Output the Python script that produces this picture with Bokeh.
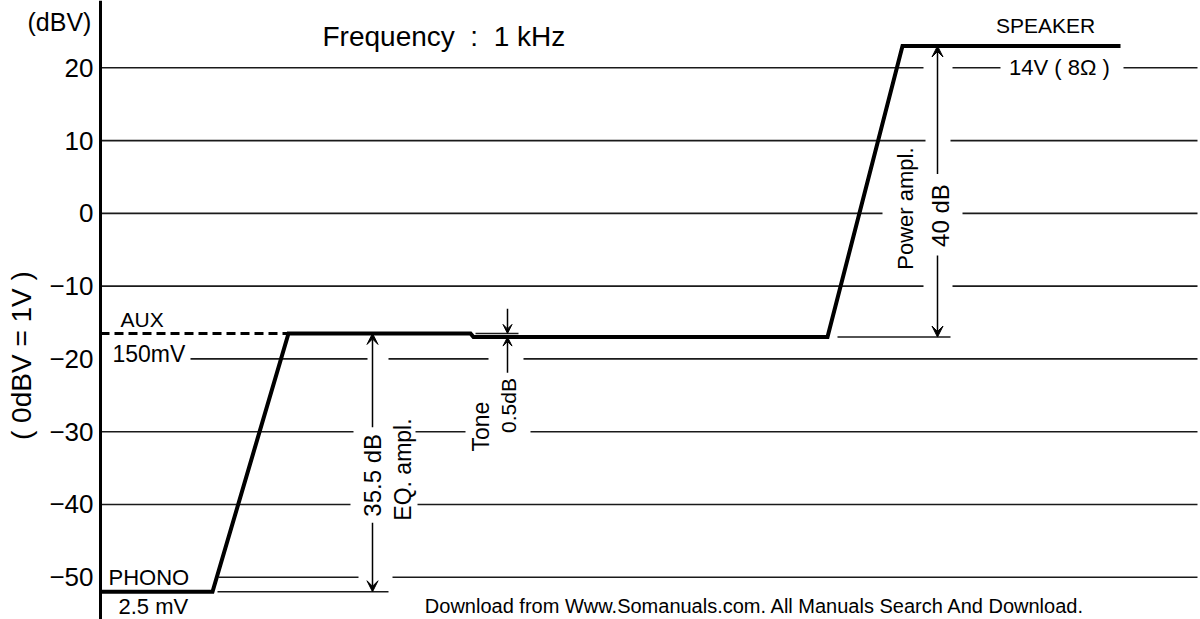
import math
from bokeh.plotting import figure
from bokeh.models import Arrow, VeeHead, Span
from bokeh.core.properties import value
from bokeh.embed import file_html
from bokeh.resources import INLINE

# ---------------- data ----------------
# signal level along the amplifier chain (x = position along the chain, arbitrary units)
stage_x = [0, 112, 188, 370, 373, 727, 802, 1020]
level_db = [-52, -52, -16.5, -16.5, -17, -17, 23, 23]

# AUX input (dashed)
aux_x = [0, 188]
aux_db = [-16.5, -16.5]

phono_db = -52.0
aux_db_level = -16.5
tone_db_level = -17.0
speaker_db = 23.0

tick_values = [20, 10, 0, -10, -20, -30, -40, -50]
tick_labels = ["20", "10", "0", "\u221210", "\u221220", "\u221230", "\u221240", "\u221250"]
unit_label = "(dBV)"
axis_title = "( 0dBV = 1V )"

# horizontal reference lines (value, start, end) with breaks where labels sit
grid_y = [20, 20, 20, 10, 10, 0, 0, -10, -10,
          -20, -20, -20, -30, -30, -30, -40, -40, -50, -50,
          -52, -17, -16.5]
grid_x0 = [0, 852, 1023, 0, 850, 0, 862, 0, 852,
           90, 288, 423, 0, 315, 430, 0, 317, 118, 292,
           117, 737, 375]
grid_x1 = [823, 900, 1097, 825, 1097, 782, 1097, 823, 1097,
           267, 388, 1097, 253, 365, 1097, 250, 1097, 258, 1097,
           288, 850, 418]

FONT = "Liberation Sans"
NB = "\u00a0"

p = figure(width=1200, height=619, output_backend="svg", toolbar_location=None,
           x_range=(-100, 1100), y_range=(-55.81, 29.25),
           min_border_left=0, min_border_right=0, min_border_top=0, min_border_bottom=0,
           background_fill_color="white", border_fill_color="white")
p.outline_line_color = None
p.grid.visible = False
p.xaxis.visible = False
p.yaxis.visible = False

def txt(x, y, t, size, align="left", angle=0.0, font=FONT):
    p.text(x=x if isinstance(x, list) else [x], y=y if isinstance(y, list) else [y],
           text=t if isinstance(t, list) else [t], angle=angle, text_font=value(font),
           text_font_size=value(size), text_align=align, text_baseline="middle",
           text_color="black")

# vertical axis line at the start of the chain, with its scale labels
p.add_layout(Span(location=0, dimension="height", line_color="black", line_width=3))
txt([-7] * len(tick_values), tick_values, tick_labels, "26px", align="right")
txt(-73, 26.36, unit_label, "25px")
txt(-79, -19.54, axis_title, "28px", "center", math.pi / 2)

# grid / reference lines
p.segment(x0=grid_x0, y0=grid_y, x1=grid_x1, y1=grid_y, line_color="#1a1a1a", line_width=1.6)

# level line
p.line(stage_x, level_db, line_color="black", line_width=4, line_join="miter")
p.line(aux_x, aux_db, line_color="black", line_width=3, line_dash="9 5")

# dimension arrows
def arrow(x, y0, y1, size=11):
    p.add_layout(Arrow(x_start=x, y_start=y0, x_end=x, y_end=y1, line_width=1.5, line_color="black",
                       end=VeeHead(size=size, fill_color="black", line_color="black", line_width=1)))

arrow(272, -29.4, aux_db_level)
arrow(272, -42.5, phono_db)
arrow(407, -13.1, aux_db_level, size=9)
arrow(407, -21.9, tone_db_level, size=9)
arrow(837, 5.4, speaker_db)
arrow(837, -5.8, tone_db_level)

txt(222, 24.3, "Frequency" + NB + NB + ":" + NB + NB + "1" + NB + "kHz", "28px")
txt(20, -14.6, "AUX", "21px")
txt(12, -19.3, "150mV", "23px")
txt(8, -50.1, "PHONO", "22px")
txt(18, -54.0, "2.5 mV", "22px")
txt(945, 25.8, "SPEAKER", "21px", align="center")
txt(959, 20.0, "14V ( 8\u03a9 )", "22px", align="center")

r = math.pi / 2
txt(272, -36.0, "35.5 dB", "24px", "center", r)
txt(302, -35.2, "EQ. ampl.", "23px", "center", r)
txt(380, -29.3, "Tone", "23px", "center", r)
txt(408, -26.4, "0.5dB", "21px", "center", r)
txt(805, 0.65, "Power ampl.", "22px", "center", r)
txt(840, -0.3, "40 dB", "24px", "center", r)

txt(654.5, -53.9, "Download from Www.Somanuals.com. All Manuals Search And Download.", "20px", "center")

open("out.html", "w").write(file_html(p, INLINE))
